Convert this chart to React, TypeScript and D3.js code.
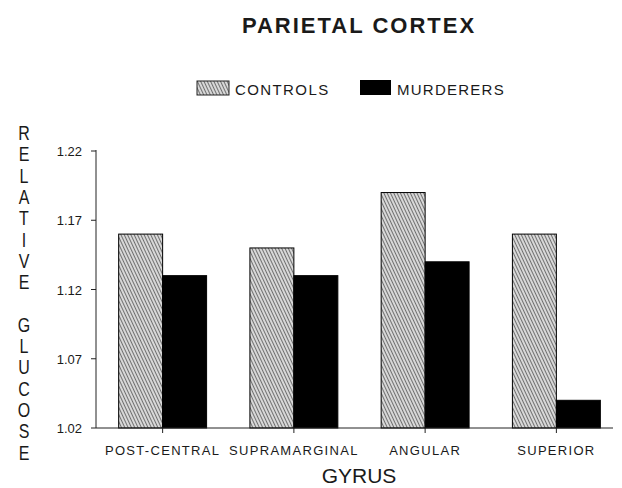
import React from "react";
import * as d3 from "d3";

const categories = ["POST-CENTRAL", "SUPRAMARGINAL", "ANGULAR", "SUPERIOR"];
const seriesNames = ["CONTROLS", "MURDERERS"];
const controls = [1.16, 1.15, 1.19, 1.16];
const murderers = [1.13, 1.13, 1.14, 1.04];
const yTicks = [1.02, 1.07, 1.12, 1.17, 1.22];
const yLabel = "RELATIVE GLUCOSE";

export default function App() {
  const W = 622, H = 488;
  const left = 96, right = 622, top = 151, bottom = 428;
  const y = d3.scaleLinear().domain([1.02, 1.22]).range([bottom, top]);
  const x0 = d3.scaleBand().domain(categories).range([left + 1, right]).padding(0);
  const bw = x0.bandwidth();
  const groupW = bw * 0.67;
  const x1 = d3.scaleBand().domain(seriesNames).range([(bw - groupW) / 2, (bw + groupW) / 2]).padding(0);
  const values: Record<string, number[]> = { CONTROLS: controls, MURDERERS: murderers };
  const font = "'Liberation Sans', Arial, sans-serif";
  const textCol = "#1a1a1a";
  const letters = yLabel.split("");

  return (
    <svg width={W} height={H} style={{ position: "absolute", left: 0, top: 0, background: "#fff" }}>
      <defs>
        <pattern id="hatch" patternUnits="userSpaceOnUse" width="3" height="3" patternTransform="rotate(-25)">
          <rect width="3" height="3" fill="#d8d8d8" />
          <line x1="0" y1="0" x2="0" y2="3" stroke="#2a2a2a" strokeWidth="1.2" />
        </pattern>
      </defs>
      <text x={359} y={33} textAnchor="middle" fontFamily={font} fontWeight="bold" fontSize={22} fill={textCol} letterSpacing={2}>
        PARIETAL CORTEX
      </text>
      {/* legend */}
      <rect x={197} y={81} width={32} height={14} fill="url(#hatch)" stroke="#222" strokeWidth={1} />
      <text x={235} y={95} fontFamily={font} fontSize={15} fill={textCol} letterSpacing={1.4}>CONTROLS</text>
      <rect x={360} y={80} width={31} height={15} fill="#000" />
      <text x={397} y={95} fontFamily={font} fontSize={15} fill={textCol} letterSpacing={1.25}>MURDERERS</text>

      {/* y label stacked */}
      {letters.map((ch, i) => (
        <text key={i} transform={`translate(24,${140 + i * 21.3}) scale(0.78,1)`} textAnchor="middle" fontFamily={font} fontSize={20.5} fill={textCol}>
          {ch}
        </text>
      ))}

      {/* bars */}
      {categories.map((c, ci) => (
        <g key={c} transform={`translate(${x0(c)},0)`}>
          {seriesNames.map((s) => (
            <rect
              key={s}
              x={x1(s)}
              y={y(values[s][ci])}
              width={x1.bandwidth()}
              height={bottom - y(values[s][ci])}
              fill={s === "CONTROLS" ? "url(#hatch)" : "#000"}
              stroke="#000"
              strokeWidth={1}
            />
          ))}
        </g>
      ))}

      {/* y axis */}
      <line x1={left} y1={top - 1} x2={left} y2={bottom} stroke="#222" strokeWidth={1} />
      {yTicks.map((t) => (
        <g key={t}>
          <line x1={left - 5} x2={left} y1={y(t)} y2={y(t)} stroke="#222" strokeWidth={1} />
          <text x={82} y={y(t) + 5} textAnchor="end" fontFamily={font} fontSize={13} fill={textCol}>
            {d3.format(".2f")(t)}
          </text>
        </g>
      ))}

      {/* x axis */}
      <line x1={left} x2={613} y1={bottom} y2={bottom} stroke="#222" strokeWidth={1} />
      {categories.map((c) => (
        <g key={c}>
          <line x1={x0(c)! + bw / 2} x2={x0(c)! + bw / 2} y1={bottom} y2={bottom + 5} stroke="#222" strokeWidth={1} />
          <text x={x0(c)! + bw / 2} y={455} textAnchor="middle" fontFamily={font} fontSize={13} fill={textCol} letterSpacing={1.3}>
            {c}
          </text>
        </g>
      ))}
      <text x={359} y={483} textAnchor="middle" fontFamily={font} fontSize={21} fill={textCol}>GYRUS</text>
    </svg>
  );
}
